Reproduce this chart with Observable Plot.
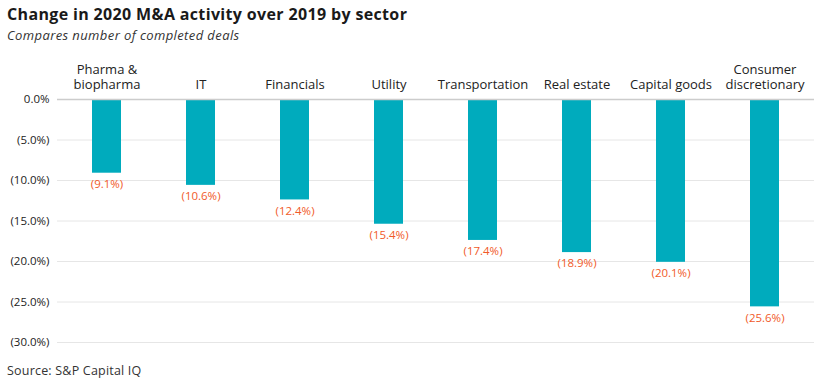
<!DOCTYPE html>
<html>
<head>
<meta charset="utf-8">
<script src="https://cdn.jsdelivr.net/npm/d3@7"></script>
<script src="https://cdn.jsdelivr.net/npm/@observablehq/plot@0.6"></script>
<style>
  body { margin: 0; background: #fff; font-family: "Open Sans", sans-serif; color: #1a1a1a; }
  #wrap { position: relative; width: 830px; height: 386px; overflow: hidden; }
  #title { position: absolute; left: 7px; top: 3px; font-size: 16px; font-weight: 700; letter-spacing: 0.35px; }
  #subtitle { position: absolute; left: 7px; top: 26px; font-size: 13px; font-style: italic; color: #333; letter-spacing: 0.4px; }
  #chart { position: absolute; left: 0; top: 50px; }
  #source { position: absolute; left: 7px; top: 362px; font-size: 12.5px; color: #333; letter-spacing: 0.2px; }
</style>
</head>
<body>
<div id="wrap">
  <div id="title">Change in 2020 M&amp;A activity over 2019 by sector</div>
  <div id="subtitle">Compares number of completed deals</div>
  <div id="chart"></div>
  <div id="source">Source: S&amp;P Capital IQ</div>
</div>
<script>
const sectors = ["Pharma &\nbiopharma", "IT", "Financials", "Utility", "Transportation", "Real estate", "Capital goods", "Consumer\ndiscretionary"];
const changes = [-9.1, -10.6, -12.4, -15.4, -17.4, -18.9, -20.1, -25.6];
const yTicks = [0, -5, -10, -15, -20, -25, -30];

const data = sectors.map((s, i) => ({sector: s, value: changes[i]}));
const fmt = d => d === 0 ? "0.0%" : `(${Math.abs(d).toFixed(1)}%)`;
const lastLine = d => d.split("\n").slice(-1)[0];
const firstLine = d => { const p = d.split("\n"); return p.length > 1 ? p[0] : ""; };

const plot = Plot.plot({
  width: 830,
  height: 312,
  marginLeft: 57,
  marginRight: 16,
  marginTop: 49,
  marginBottom: 20,
  style: {fontFamily: "Open Sans, sans-serif", color: "#222"},
  x: {domain: sectors, paddingInner: 0.69, paddingOuter: 0.345, axis: null, label: null},
  y: {domain: [-30, 0], ticks: yTicks, axis: null, label: null},
  marks: [
    Plot.gridY(yTicks.filter(d => d !== 0), {stroke: "#e6e6e6", strokeOpacity: 1}),
    Plot.axisY(yTicks, {tickFormat: fmt, tickSize: 0, tickPadding: 8, fontSize: 11.5, fill: "#222", label: null}),
    Plot.axisX(sectors, {anchor: "top", tickSize: 0, tickPadding: 11, fontSize: 13, fill: "#222", tickFormat: lastLine, label: null}),
    Plot.axisX(sectors.filter(d => d.includes("\n")), {anchor: "top", tickSize: 0, tickPadding: 26, fontSize: 13, fill: "#222", tickFormat: firstLine, label: null}),
    Plot.barY(data, {x: "sector", y: "value", fill: "#00abbd"}),
    Plot.ruleY([0], {stroke: "#cccccc", strokeWidth: 1.5}),
    Plot.text(data, {x: "sector", y: "value", text: d => fmt(d.value), dy: 11, fill: "#f15a29", fontSize: 11.5})
  ]
});
document.getElementById("chart").appendChild(plot);
</script>
</body>
</html>
